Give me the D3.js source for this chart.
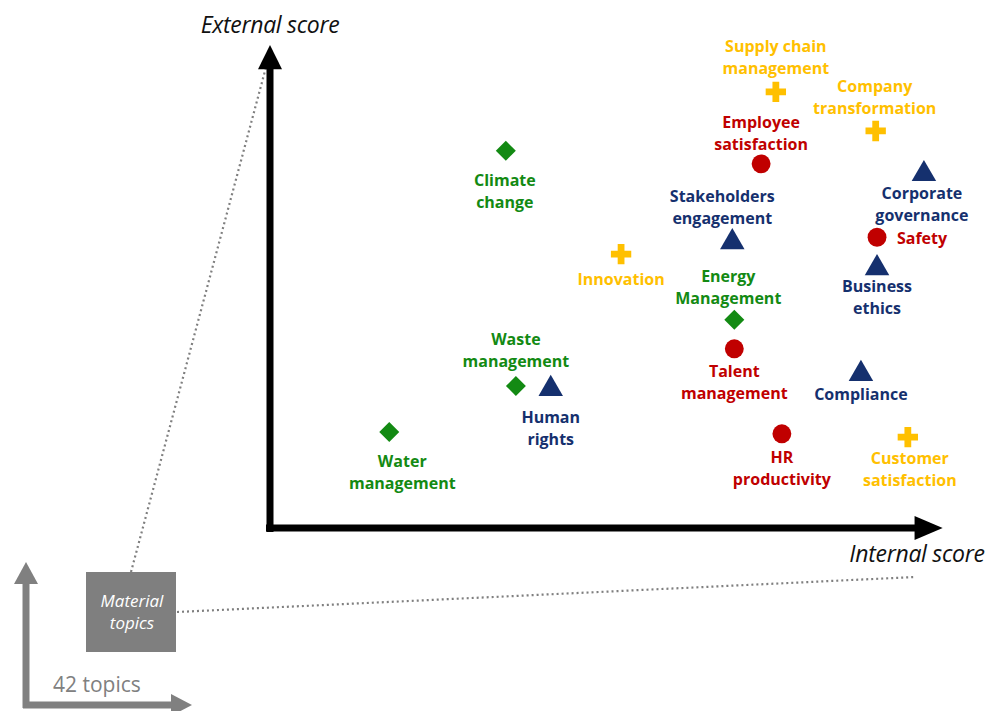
<!DOCTYPE html>
<html><head><meta charset="utf-8">
<script src="https://cdn.jsdelivr.net/npm/d3@7"></script>
<style>
body{margin:0;background:#fff;}
svg{display:block;}
</style></head>
<body>
<svg id="chart" width="1007" height="711"></svg>
<script>
// ---- data ----
const topics = ["Water management","Waste management","Climate change","Energy Management",
  "Human rights","Stakeholders engagement","Corporate governance","Business ethics","Compliance",
  "Employee satisfaction","Safety","Talent management","HR productivity",
  "Supply chain management","Company transformation","Innovation","Customer satisfaction"];
const groups = ["env","env","env","env",
  "gov","gov","gov","gov","gov",
  "people","people","people","people",
  "business","business","business","business"];
const internalScore = [17.8,36.7,35.2,69.3, 41.9,69.0,97.6,90.6,88.2, 73.3,90.6,69.3,76.4, 75.5,90.4,52.4,95.2];
const externalScore = [19.9,29.4,78.1,43.1, 29.2,59.6,73.7,54.2,32.3, 75.4,60.2,37.1,19.5, 90.3,82.2,56.7,18.8];
const labelLines = [["Water","management"],["Waste","management"],["Climate","change"],["Energy","Management"],
  ["Human","rights"],["Stakeholders","engagement"],["Corporate","governance"],["Business","ethics"],["Compliance"],
  ["Employee","satisfaction"],["Safety"],["Talent","management"],["HR","productivity"],
  ["Supply chain","management"],["Company","transformation"],["Innovation"],["Customer","satisfaction"]];
const axisTitles = {x:"Internal score", y:"External score"};
const insetTexts = {box:["Material","topics"], count:"42 topics"};

// ---- layout / style ----
const colors = {env:"#138a13", gov:"#15306e", people:"#c00000", business:"#ffc000"};
const shapes = {env:"diamond", gov:"triangle", people:"circle", business:"cross"};
// label offset: [dx, baseline of first line relative to point]
const labelOffset = [[13,35],[0,-41],[-1,35],[-6,-38],
  [0,36],[-10,-38],[-2,27],[0,26],[0,28],
  [0,-36],[45,7],[0,28],[0,29],
  [0,-40],[-1,-39],[0,31],[2,27]];

const svg = d3.select("#chart");
const x = d3.scaleLinear().domain([0,100]).range([270,940]);
const y = d3.scaleLinear().domain([0,100]).range([528,45]);

// dotted connector lines (behind)
const dot = svg.append("g").attr("stroke","#7f7f7f").attr("stroke-width",2.2)
  .attr("stroke-dasharray","2,3").attr("fill","none");
dot.append("line").attr("x1",131).attr("y1",572).attr("x2",x(0)).attr("y2",y(98.5));
dot.append("line").attr("x1",177).attr("y1",612).attr("x2",915).attr("y2",577);

// main axes
const ax = svg.append("g");
ax.append("line").attr("x1",x(0)).attr("y1",y(0)+4).attr("x2",x(0)).attr("y2",y(96))
  .attr("stroke","#000").attr("stroke-width",7);
ax.append("path").attr("d",`M${x(0)-12},${y(95)} L${x(0)},${y(100)} L${x(0)+12},${y(95)} Z`).attr("fill","#000");
ax.append("line").attr("x1",x(0)-4).attr("y1",y(0)).attr("x2",x(97)).attr("y2",y(0))
  .attr("stroke","#000").attr("stroke-width",7);
ax.append("path").attr("d",`M${x(96.2)},${y(0)-12} L${x(100.4)},${y(0)} L${x(96.2)},${y(0)+12} Z`).attr("fill","#000");

svg.append("text").attr("x",270).attr("y",33).attr("text-anchor","middle")
  .attr("font-family","'Open Sans',sans-serif").attr("font-style","italic").attr("font-size",23)
  .attr("letter-spacing",-0.3).attr("fill","#111").text(axisTitles.y);
svg.append("text").attr("x",917).attr("y",562).attr("text-anchor","middle")
  .attr("font-family","'Open Sans',sans-serif").attr("font-style","italic").attr("font-size",23)
  .attr("letter-spacing",-0.3).attr("fill","#111").text(axisTitles.x);

// inset (grey)
const g2 = svg.append("g");
g2.append("line").attr("x1",26).attr("y1",708).attr("x2",26).attr("y2",580)
  .attr("stroke","#808080").attr("stroke-width",7);
g2.append("path").attr("d","M14,584 L26,562 L38,584 Z").attr("fill","#808080");
g2.append("line").attr("x1",23).attr("y1",705).attr("x2",175).attr("y2",705)
  .attr("stroke","#808080").attr("stroke-width",7);
g2.append("path").attr("d","M171,694 L192,705 L171,716 Z").attr("fill","#808080");
g2.append("rect").attr("x",86).attr("y",572).attr("width",90).attr("height",80).attr("fill","#7f7f7f");
g2.selectAll("text.box").data(insetTexts.box).join("text").attr("class","box")
  .attr("x",132).attr("y",(d,i)=>607+i*22).attr("text-anchor","middle")
  .attr("font-family","'Open Sans',sans-serif").attr("font-style","italic").attr("font-size",17)
  .attr("fill","#fff").text(d=>d);
g2.append("text").attr("x",53).attr("y",692).attr("font-family","'Open Sans',sans-serif")
  .attr("font-size",21).attr("fill","#808080").text(insetTexts.count);

// markers
const sym = {
  diamond: d3.symbol().type(d3.symbolSquare).size(200)(),
  triangle: d3.symbol().type(d3.symbolTriangle).size(260)(),
  circle: d3.symbol().type(d3.symbolCircle).size(280)(),
  cross: d3.symbol().type(d3.symbolCross).size(230)()
};
const pts = topics.map((t,i)=>({t, g:groups[i], xi:internalScore[i], ye:externalScore[i], lines:labelLines[i], off:labelOffset[i]}));
const mk = svg.append("g");
mk.selectAll("path").data(pts).join("path")
  .attr("d",d=>sym[shapes[d.g]])
  .attr("transform",d=>`translate(${x(d.xi)},${y(d.ye)})` + (shapes[d.g]==="diamond"?" rotate(45)":"") + (shapes[d.g]==="triangle"?" translate(0,2)":""))
  .attr("fill",d=>colors[d.g]);

// labels
const lb = svg.append("g").attr("font-family","'Open Sans',sans-serif").attr("font-weight",700).attr("font-size",16);
pts.forEach(d=>{
  lb.append("text").attr("text-anchor","middle").attr("fill",colors[d.g])
    .selectAll("tspan").data(d.lines).join("tspan")
    .attr("x",x(d.xi)+d.off[0]).attr("y",(l,i)=>y(d.ye)+d.off[1]+i*22).text(l=>l);
});
</script>
</body></html>
